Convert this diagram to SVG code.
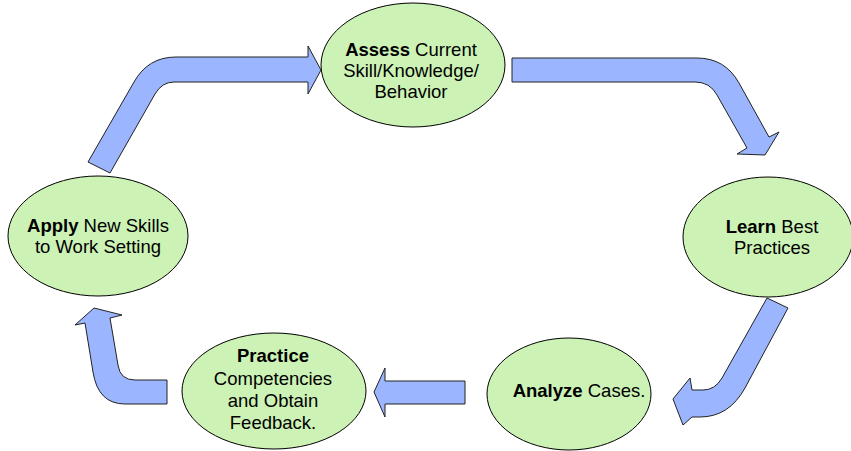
<svg xmlns="http://www.w3.org/2000/svg" width="851" height="451" viewBox="0 0 851 451">
<style>
.node{fill:#CCF2B5;stroke:#000;stroke-width:1}
.arrow{fill:#9BB6FF;stroke:#222;stroke-width:1;stroke-linejoin:miter}
text{font-family:"Liberation Sans",Arial,sans-serif;font-size:18.5px;fill:#000;text-anchor:middle}
.b{font-weight:bold}
</style>
<rect width="851" height="451" fill="#fff"/>
<g id="connectors">
<path class="arrow" d="M88,162 L134,82 Q148,57 176,57 L308,57 L308,46 L321,70 L308,94 L308,82 L174,82 Q162,82 155,94 L110,173 Z"/>
<path class="arrow" d="M512,58 L697,58 Q725,58 739,83 L769,137 L779,132 L765,155 L737,154 L747,148 L717,95 Q710,82 695,82 L512,82 Z"/>
<path class="arrow" d="M767,298 L788,308 L745,388 Q729,417 700,417 L692,417 L683,425 L673,399 L690,378 L692,390 L703,390 Q715,390 722,378 Z"/>
<path class="arrow" d="M465,381 L385,381 L385,368 L374,392 L385,417 L385,404 L465,404 Z"/>
<path class="arrow" d="M167,380 L135,380 Q120,380 118,365 L110,318 L122,315 L94,308 L75,325 L85,323 L93,372 Q98,404 125,404 L167,404 Z"/>
</g>
<g id="assess">
<ellipse class="node" cx="413" cy="65" rx="92" ry="62"/>
<text x="411" y="56"><tspan class="b">Assess</tspan> Current</text>
<text x="411" y="77">Skill/Knowledge/</text>
<text x="411" y="98">Behavior</text>
</g>
<g id="learn">
<ellipse class="node" cx="768" cy="237" rx="85" ry="60"/>
<text x="772" y="233"><tspan class="b">Learn</tspan> Best</text>
<text x="772" y="254">Practices</text>
</g>
<g id="analyze">
<ellipse class="node" cx="569" cy="394" rx="82" ry="56"/>
<text x="579" y="397"><tspan class="b">Analyze</tspan> Cases.</text>
</g>
<g id="practice">
<ellipse class="node" cx="274" cy="391" rx="92" ry="58"/>
<text x="273" y="362" class="b">Practice</text>
<text x="273" y="385">Competencies</text>
<text x="273" y="407">and Obtain</text>
<text x="273" y="429">Feedback.</text>
</g>
<g id="apply">
<ellipse class="node" cx="98" cy="236" rx="90" ry="60"/>
<text x="98" y="232"><tspan class="b">Apply</tspan> New Skills</text>
<text x="98" y="253">to Work Setting</text>
</g>
</svg>
